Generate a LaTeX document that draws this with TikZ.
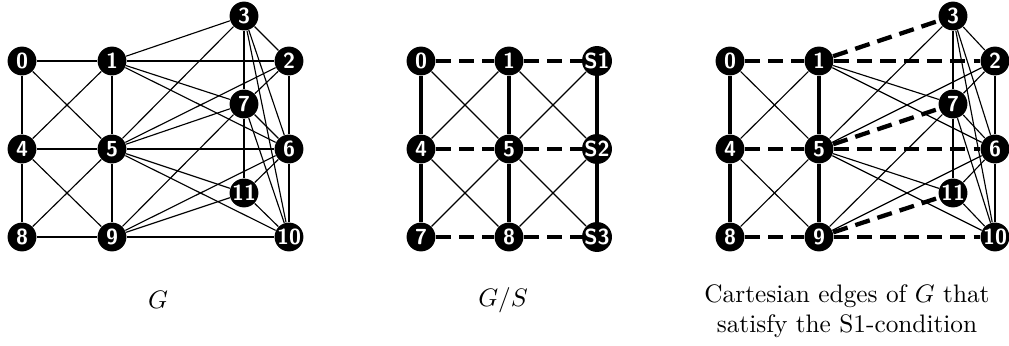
\documentclass[tikz,border=0pt]{standalone}
\tikzset{
  vtx/.style={circle,fill=black,text=white,inner sep=0pt,minimum size=11.4pt,
    font=\fontsize{8.6}{9}\selectfont\sffamily\bfseries},
  thinedge/.style={line width=0.45pt},
  thicksolid/.style={line width=1.7pt},
  thickdash/.style={line width=1.7pt,dash pattern=on 6pt off 3.2pt},
  captext/.style={font=\normalsize,align=center}
}
\begin{document}
\begin{tikzpicture}[x=0.3953pt,y=-0.3953pt]
\useasboundingbox (0,0) rectangle (1009,346);
% ---------- panel 1: G ----------
\node[vtx] (a0) at (22,61) {0};
\node[vtx] (a1) at (112,61) {1};
\node[vtx] (a2) at (289,61) {2};
\node[vtx] (a3) at (244,16) {3};
\node[vtx] (a7) at (244,104) {7};
\node[vtx] (a4) at (22,149) {4};
\node[vtx] (a5) at (112,149) {5};
\node[vtx] (a6) at (289,149) {6};
\node[vtx] (a11) at (244,193) {11};
\node[vtx] (a8) at (22,237) {8};
\node[vtx] (a9) at (112,237) {9};
\node[vtx] (a10) at (289,237) {10};
\foreach \u/\v in {0/1,0/4,0/5,1/3,1/2,1/5,1/4,1/7,1/6,2/3,2/6,2/7,2/5,3/7,3/6,3/10,3/5,
  4/5,4/8,4/9,5/6,5/7,5/8,5/9,5/11,5/10,6/7,6/10,6/11,6/9,7/11,7/9,7/10,8/9,9/10,9/11,11/10}
  \draw[thinedge] (a\u) -- (a\v);
\node[captext] (capa) at (158,300) {$G$};
% ---------- panel 2: G/S ----------
\node[vtx] (b0) at (421,61) {0};
\node[vtx] (b1) at (509,61) {1};
\node[vtx] (bS1) at (597,61) {S1};
\node[vtx] (b4) at (421,149) {4};
\node[vtx] (b5) at (509,149) {5};
\node[vtx] (bS2) at (597,149) {S2};
\node[vtx] (b7) at (421,237) {7};
\node[vtx] (b8) at (509,237) {8};
\node[vtx] (bS3) at (597,237) {S3};
\foreach \u/\v in {0/5,1/4,1/S2,5/S1,4/8,5/7,5/S3,8/S2}
  \draw[thinedge] (b\u) -- (b\v);
\foreach \u/\v in {0/4,4/7,1/5,5/8,S1/S2,S2/S3}
  \draw[thicksolid] (b\u) -- (b\v);
\foreach \u/\v in {0/1,1/S1,4/5,5/S2,7/8,8/S3}
  \draw[thickdash] (b\u) -- (b\v);
\node[captext] (capb) at (503,300) {$G/S$};
% ---------- panel 3 ----------
\node[vtx] (c0) at (730,61) {0};
\node[vtx] (c1) at (819,61) {1};
\node[vtx] (c2) at (995,61) {2};
\node[vtx] (c3) at (953,16) {3};
\node[vtx] (c7) at (953,104) {7};
\node[vtx] (c4) at (730,149) {4};
\node[vtx] (c5) at (819,149) {5};
\node[vtx] (c6) at (995,149) {6};
\node[vtx] (c11) at (953,193) {11};
\node[vtx] (c8) at (730,237) {8};
\node[vtx] (c9) at (819,237) {9};
\node[vtx] (c10) at (995,237) {10};
\foreach \u/\v in {0/5,1/4,4/9,5/8,1/7,1/6,2/3,2/6,2/7,2/5,3/7,3/6,3/10,3/5,
  6/7,6/10,6/11,6/9,7/11,7/9,7/10,5/11,5/10,11/10}
  \draw[thinedge] (c\u) -- (c\v);
\foreach \u/\v in {0/4,4/8,1/5,5/9}
  \draw[thicksolid] (c\u) -- (c\v);
\foreach \u/\v in {0/1,1/2,1/3,4/5,5/6,5/7,8/9,9/10,9/11}
  \draw[thickdash] (c\u) -- (c\v);
\node[captext] (capc) at (847,311) {Cartesian edges of $G$ that\\satisfy the S1-condition};
\end{tikzpicture}
\end{document}
